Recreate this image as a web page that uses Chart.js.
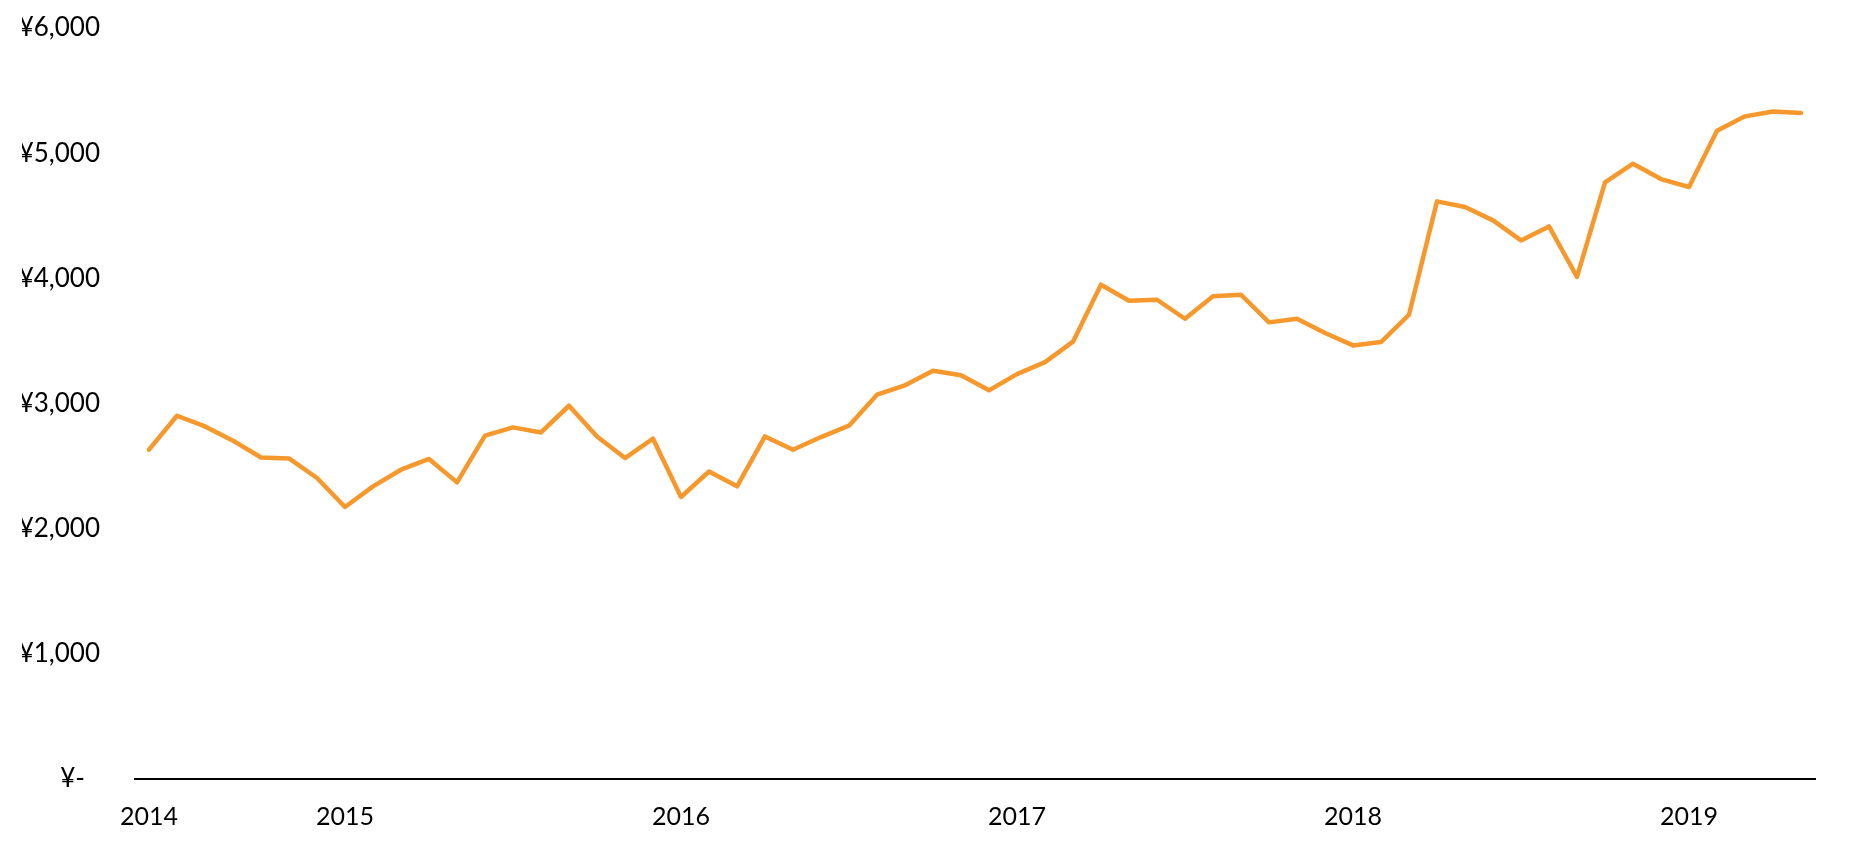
<!DOCTYPE html>
<html>
<head>
<meta charset="utf-8">
<script src="https://cdn.jsdelivr.net/npm/chart.js@4.4.1/dist/chart.umd.min.js"></script>
<style>
  html, body { margin: 0; padding: 0; background: #ffffff; }
  #wrap { width: 1849px; height: 845px; position: relative; }
</style>
</head>
<body>
<div id="wrap"><canvas id="c"></canvas></div>
<script>
// Monthly categories (Jun 2014 – May 2019)
const months = [
  '2014-06','2014-07','2014-08','2014-09','2014-10','2014-11','2014-12',
  '2015-01','2015-02','2015-03','2015-04','2015-05','2015-06','2015-07','2015-08','2015-09','2015-10','2015-11','2015-12',
  '2016-01','2016-02','2016-03','2016-04','2016-05','2016-06','2016-07','2016-08','2016-09','2016-10','2016-11','2016-12',
  '2017-01','2017-02','2017-03','2017-04','2017-05','2017-06','2017-07','2017-08','2017-09','2017-10','2017-11','2017-12',
  '2018-01','2018-02','2018-03','2018-04','2018-05','2018-06','2018-07','2018-08','2018-09','2018-10','2018-11','2018-12',
  '2019-01','2019-02','2019-03','2019-04','2019-05'
];

// Series values (¥)
const prices = [
  2631, 2902, 2817, 2703, 2569, 2561, 2405,
  2173, 2338, 2471, 2557, 2370, 2743, 2809, 2769, 2982, 2737, 2564, 2719,
  2253, 2457, 2338, 2737, 2631, 2732, 2823, 3070, 3145, 3262, 3225, 3105,
  3235, 3331, 3494, 3949, 3821, 3829, 3677, 3856, 3869, 3648, 3677, 3563,
  3464, 3491, 3709, 4615, 4570, 4463, 4303, 4415, 4011, 4767, 4916, 4793,
  4730, 5179, 5294, 5333, 5321
];

// Y tick values
const yTicks = [0, 1000, 2000, 3000, 4000, 5000, 6000];

const FONT = 'Lato, "Open Sans", "DejaVu Sans", sans-serif';

new Chart(document.getElementById('c'), {
  type: 'line',
  data: {
    labels: months,
    datasets: [{
      data: prices,
      borderColor: '#F7982D',
      backgroundColor: '#F7982D',
      borderWidth: 4.5,
      pointRadius: 0,
      pointHoverRadius: 0,
      tension: 0,
      fill: false,
      borderJoinStyle: 'round',
      borderCapStyle: 'round'
    }]
  },
  options: {
    responsive: true,
    maintainAspectRatio: false,
    animation: false,
    devicePixelRatio: 1,
    layout: { padding: { left: 22, right: 34, top: 28, bottom: 13 } },
    plugins: {
      legend: { display: false },
      tooltip: { enabled: false },
      title: { display: false }
    },
    scales: {
      x: {
        type: 'category',
        offset: true,
        grid: { display: false, drawTicks: false },
        border: { display: true, color: '#000000', width: 2 },
        afterFit: function(axis) {
          axis.height = 53;
          axis.paddingLeft = 0;
          axis.paddingRight = 0;
        },
        ticks: {
          autoSkip: false,
          maxRotation: 0,
          minRotation: 0,
          padding: 23,
          color: '#000000',
          font: { family: FONT, size: 25 },
          callback: function(value, index) {
            const parts = months[index].split('-');
            if (index === 0 || parts[1] === '01') return parts[0];
            return '';
          }
        }
      },
      y: {
        min: 0,
        max: 6000,
        afterBuildTicks: function(axis) {
          axis.ticks = yTicks.map(v => ({ value: v }));
        },
        afterFit: function(axis) {
          axis.width = 113;
          axis.paddingTop = 0;
          axis.paddingBottom = 0;
        },
        grid: { display: false, drawTicks: false },
        border: { display: false },
        ticks: {
          padding: 35,
          color: '#000000',
          font: { family: FONT, size: 26 },
          callback: function(value) {
            if (value === 0) return '¥-\u2007';
            return '¥' + Number(value).toLocaleString('en-US');
          }
        }
      }
    }
  }
});
</script>
</body>
</html>
